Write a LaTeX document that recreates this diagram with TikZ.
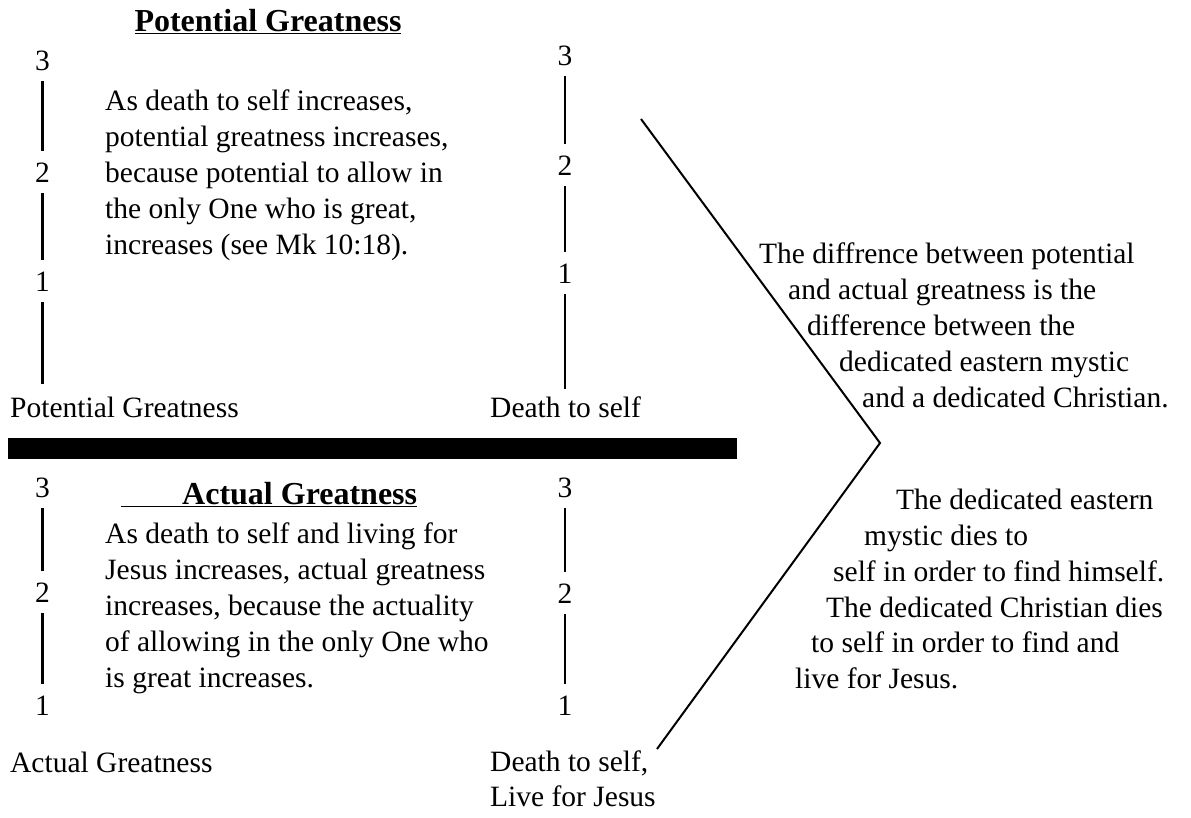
\documentclass[tikz,border=0pt]{standalone}
\usepackage{fontspec}
\setmainfont{Liberation Serif}
\usetikzlibrary{positioning}

\tikzset{
    numlbl/.style={inner sep=0pt, anchor=base, font=\fontsize{29.5}{36}\selectfont},
    axisline/.style={line width=2.5pt, shorten <=11pt, shorten >=11pt},
    bodytext/.style={inner sep=0pt, align=left, anchor=north west, font=\fontsize{29.5}{35.8}\selectfont},
    lbltext/.style={inner sep=0pt, anchor=base west, font=\fontsize{29.5}{34.5}\selectfont},
    heading/.style={inner sep=0pt, anchor=base, font=\bfseries\fontsize{32}{36}\selectfont},
}

\begin{document}
\begin{tikzpicture}[x=1pt, y=-1pt]
    \useasboundingbox (0,0) rectangle (1191,817);

    \node[heading] (pghead) at (268,31) {\underline{Potential Greatness}};
    \node[numlbl] (pl3) at (42.5,70) {3};
    \node[numlbl, below=92pt of pl3] (pl2) {2};
    \node[numlbl, below=89pt of pl2] (pl1) {1};
    \node[numlbl] (pr3) at (565,65) {3};
    \node[numlbl, below=90pt of pr3] (pr2) {2};
    \node[numlbl, below=88pt of pr2] (pr1) {1};
    \node[bodytext] (pgtext) at (105,90) {As death to self increases,\\potential greatness increases,\\because potential to allow in\\the only One who is great,\\increases (see Mk 10:18).};
    \node[lbltext] (pglbl) at (10,417) {Potential Greatness};
    \node[lbltext] (dslbl) at (490,417) {Death to self};

    \fill (8,438) rectangle (737,459);

    \node[heading, anchor=base west] (aghead) at (121,504) {\underline{\hspace{61pt}Actual Greatness}};
    \node[numlbl] (al3) at (42.5,497) {3};
    \node[numlbl, below=85pt of al3] (al2) {2};
    \node[numlbl, below=93pt of al2] (al1) {1};
    \node[numlbl] (ar3) at (565,497) {3};
    \node[numlbl, below=86pt of ar3] (ar2) {2};
    \node[numlbl, below=92pt of ar2] (ar1) {1};
    \node[bodytext] (agtext) at (105,523) {As death to self and living for\\Jesus increases, actual greatness\\increases, because the actuality\\of allowing in the only One who\\is great increases.};
    \node[lbltext] (aglbl) at (10,772) {Actual Greatness};
    \node[bodytext, font=\fontsize{29.5}{34.5}\selectfont] (dllbl) at (490,751) {Death to self,\\Live for Jesus};

    \node[bodytext] (difftext) at (759,243) {The diffrence between potential\\\hspace*{29pt}and actual greatness is the\\\hspace*{48pt}difference between the\\\hspace*{80pt}dedicated eastern mystic\\\hspace*{103pt}and a dedicated Christian.};
    \node[bodytext] (mystext) at (795,489) {\hspace*{101pt}The dedicated eastern\\\hspace*{69pt}mystic dies to\\\hspace*{38pt}self in order to find himself.\\\hspace*{31pt}The dedicated Christian dies\\\hspace*{16pt}to self in order to find and\\live for Jesus.};

    \coordinate (dtop) at (641,119);
    \coordinate (dtip) at (880,443);
    \coordinate (dbot) at (657,749);

    \draw[axisline] (pl3) -- (pl2);
    \draw[axisline] (pl2) -- (pl1);
    \draw[axisline, shorten >=12pt] (pl1) -- (pl1 |- pglbl.north);
    \draw[axisline] (pr3) -- (pr2);
    \draw[axisline] (pr2) -- (pr1);
    \draw[axisline, shorten >=7pt] (pr1) -- (pr1 |- dslbl.north);
    \draw[axisline] (al3) -- (al2);
    \draw[axisline] (al2) -- (al1);
    \draw[axisline] (ar3) -- (ar2);
    \draw[axisline] (ar2) -- (ar1);
    \draw[line width=2pt] (dtop) -- (dtip) -- (dbot);
\end{tikzpicture}
\end{document}
